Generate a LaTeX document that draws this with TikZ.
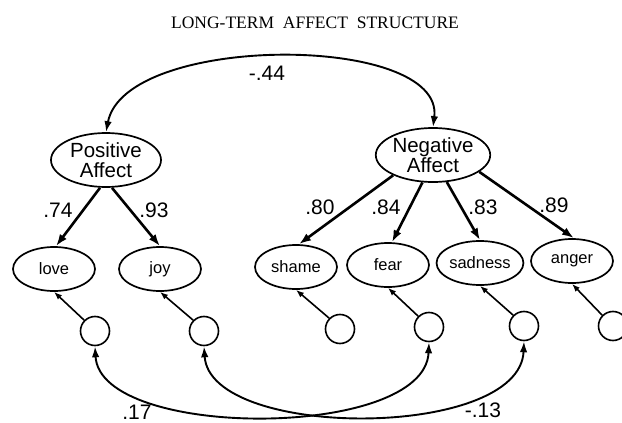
\documentclass[tikz,border=0pt]{standalone}
\usepackage{fontspec}
\setmainfont{Liberation Sans}
\newfontfamily\titlefont{Liberation Serif}
\usetikzlibrary{shapes.geometric,arrows.meta}
\tikzset{
  latent/.style={ellipse,draw,line width=1.7pt,inner sep=0pt,minimum width=110pt,minimum height=54pt,align=center,font=\fontsize{20.5}{20}\selectfont},
  indic/.style={ellipse,draw,line width=1.7pt,inner sep=0pt,minimum width=82pt,minimum height=44pt,font=\fontsize{16.5}{18}\selectfont},
  errc/.style={circle,draw,line width=1.6pt,inner sep=0pt,minimum size=29pt},
  coef/.style={inner sep=0pt,font=\fontsize{21}{22}\selectfont},
  loadarr/.style={-{Latex[length=12pt,width=8.5pt]},line width=2.6pt},
  errarr/.style={-{Latex[length=8pt,width=6pt]},line width=1.6pt},
  corarr/.style={{Latex[length=11pt,width=7.5pt]}-{Latex[length=11pt,width=7.5pt]},line width=1.9pt}
}
\begin{document}
\begin{tikzpicture}[x=1pt,y=-1pt]
\useasboundingbox (0,0) rectangle (622,423);
\clip (0,0) rectangle (622,423);
\node[font=\titlefont\fontsize{17.5}{20}\selectfont,inner sep=0pt] (title) at (315,23) {LONG-TERM\ \ AFFECT\ \ STRUCTURE};
\node[latent] (pos) at (106,160) {Positive\\Affect};
\node[latent] (neg) at (433,155) {Negative\\Affect};
\node[indic] (love) at (54,269) {love};
\node[indic] (joy) at (160,269) {joy};
\node[indic] (shame) at (296,267) {shame};
\node[indic] (fear) at (388,265) {fear};
\node[indic] (sad) at (480,263) {sadness};
\node[indic] (anger) at (572,261) {anger};
\node[errc] (e1) at (95,331) {};
\node[errc] (e2) at (204,331) {};
\node[errc] (e3) at (340,329) {};
\node[errc] (e4) at (429,327) {};
\node[errc] (e5) at (524,326) {};
\node[errc] (e6) at (613,326) {};
% correlation of factors
\draw[corarr] (pos.north) .. controls (125,33) and (445,33) .. (neg.north);
\node[coef] (c44) at (267,73) {-.44};
% loadings
\draw[loadarr] ([xshift=-6pt]pos.south) -- ([xshift=2pt]love.north);
\draw[loadarr] ([xshift=6pt]pos.south) -- (joy.north);
\draw[loadarr] (neg.207) -- ([xshift=3pt]shame.north);
\draw[loadarr] (neg.249) -- ([xshift=4pt]fear.north);
\draw[loadarr] (neg.297) -- (sad.north);
\draw[loadarr] (neg.340) -- ([xshift=2pt]anger.north);
\node[coef] (l1) at (58,210) {.74};
\node[coef] (l2) at (154,210) {.93};
\node[coef] (l3) at (320,207) {.80};
\node[coef] (l4) at (386,207) {.84};
\node[coef] (l5) at (483,207) {.83};
\node[coef] (l6) at (554,205) {.89};
% errors
\draw[errarr] (e1.135) -- (love.south);
\draw[errarr] (e2.135) -- (joy.south);
\draw[errarr] (e3.135) -- (shame.south);
\draw[errarr] (e4.135) -- (fear.south);
\draw[errarr] (e5.135) -- (sad.south);
\draw[errarr] (e6.135) -- (anger.south);
% error correlations
\draw[corarr] (e1.south) .. controls (100,440) and (425,440) .. (e4.south);
\draw[corarr] (e2.south) .. controls (210,440) and (520,440) .. (e5.south);
\node[coef] (c17) at (137,412) {.17};
\node[coef] (c13) at (483,410) {-.13};
\end{tikzpicture}
\end{document}
